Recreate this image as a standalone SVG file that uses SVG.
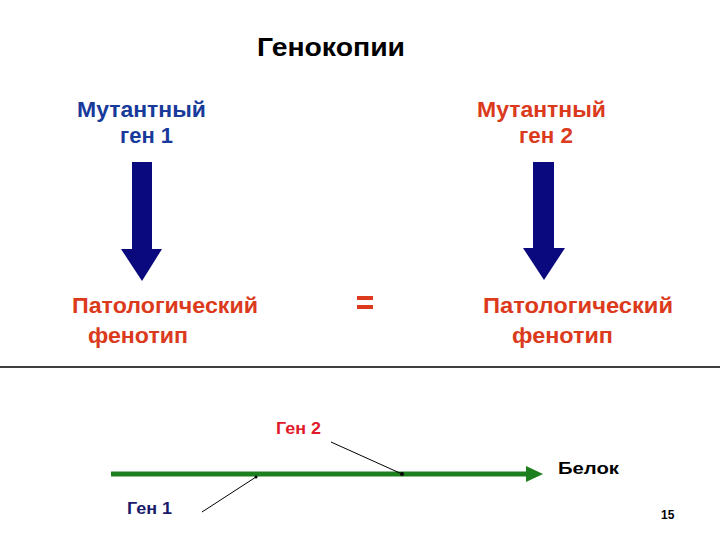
<svg xmlns="http://www.w3.org/2000/svg" width="720" height="540" viewBox="0 0 720 540">
<style>
text{font-family:"Liberation Sans",Arial,sans-serif;font-weight:bold}
.blue{fill:#173a9b}
.red{fill:#db3a1c}
.big{font-size:22px}
</style>
<rect width="720" height="540" fill="#fff"/>
<g id="title"><text x="257" y="56" font-size="25" textLength="148" lengthAdjust="spacingAndGlyphs">Генокопии</text></g>
<g id="gene1" class="blue big">
<text x="77" y="117" textLength="129" lengthAdjust="spacingAndGlyphs">Мутантный</text>
<text x="120" y="143" textLength="53" lengthAdjust="spacingAndGlyphs">ген 1</text>
</g>
<g id="gene2" class="red big">
<text x="477" y="117" textLength="129" lengthAdjust="spacingAndGlyphs">Мутантный</text>
<text x="519" y="143" textLength="54" lengthAdjust="spacingAndGlyphs">ген 2</text>
</g>
<g id="pheno1" class="red big">
<text x="72" y="313" textLength="186" lengthAdjust="spacingAndGlyphs">Патологический</text>
<text x="88" y="343" textLength="100" lengthAdjust="spacingAndGlyphs">фенотип</text>
</g>
<g id="pheno2" class="red big">
<text x="483" y="313" textLength="190" lengthAdjust="spacingAndGlyphs">Патологический</text>
<text x="512" y="343" textLength="101" lengthAdjust="spacingAndGlyphs">фенотип</text>
</g>
<g id="equals" class="red"><rect x="357" y="296" width="16" height="4" fill="#db3a1c"/><rect x="357" y="305" width="16" height="4" fill="#db3a1c"/></g>
<g id="arrows" fill="#0a0a7e">
<polygon points="132,162 152,162 152,249 162,249 142,281 121,249 132,249"/>
<polygon points="533,162 554,162 554,248 565,248 544,280 523,248 533,248"/>
</g>
<line x1="0" y1="367" x2="720" y2="367" stroke="#000" stroke-width="1.5"/>
<g id="connectors">
<line x1="111" y1="474" x2="528" y2="474" stroke="#1d7f1d" stroke-width="5"/>
<polygon points="526,466 543,474 526,482" fill="#1d7f1d"/>
<line x1="331" y1="442" x2="402" y2="474" stroke="#000" stroke-width="1"/>
<circle cx="402" cy="474" r="2" fill="#000"/>
<line x1="202" y1="512" x2="256" y2="477" stroke="#000" stroke-width="1"/>
<circle cx="256" cy="477" r="1.5" fill="#000"/>
</g>
<g id="gen2"><text x="276" y="434" font-size="16" fill="#e01a2a" textLength="45" lengthAdjust="spacingAndGlyphs">Ген 2</text></g>
<g id="belok"><text x="558" y="474" font-size="17" fill="#000" textLength="61" lengthAdjust="spacingAndGlyphs">Белок</text></g>
<g id="gen1"><text x="127" y="514" font-size="16" fill="#1a1a6a" textLength="45" lengthAdjust="spacingAndGlyphs">Ген 1</text></g>
<g id="page"><text x="661" y="519" font-size="12" fill="#000">15</text></g>
</svg>
